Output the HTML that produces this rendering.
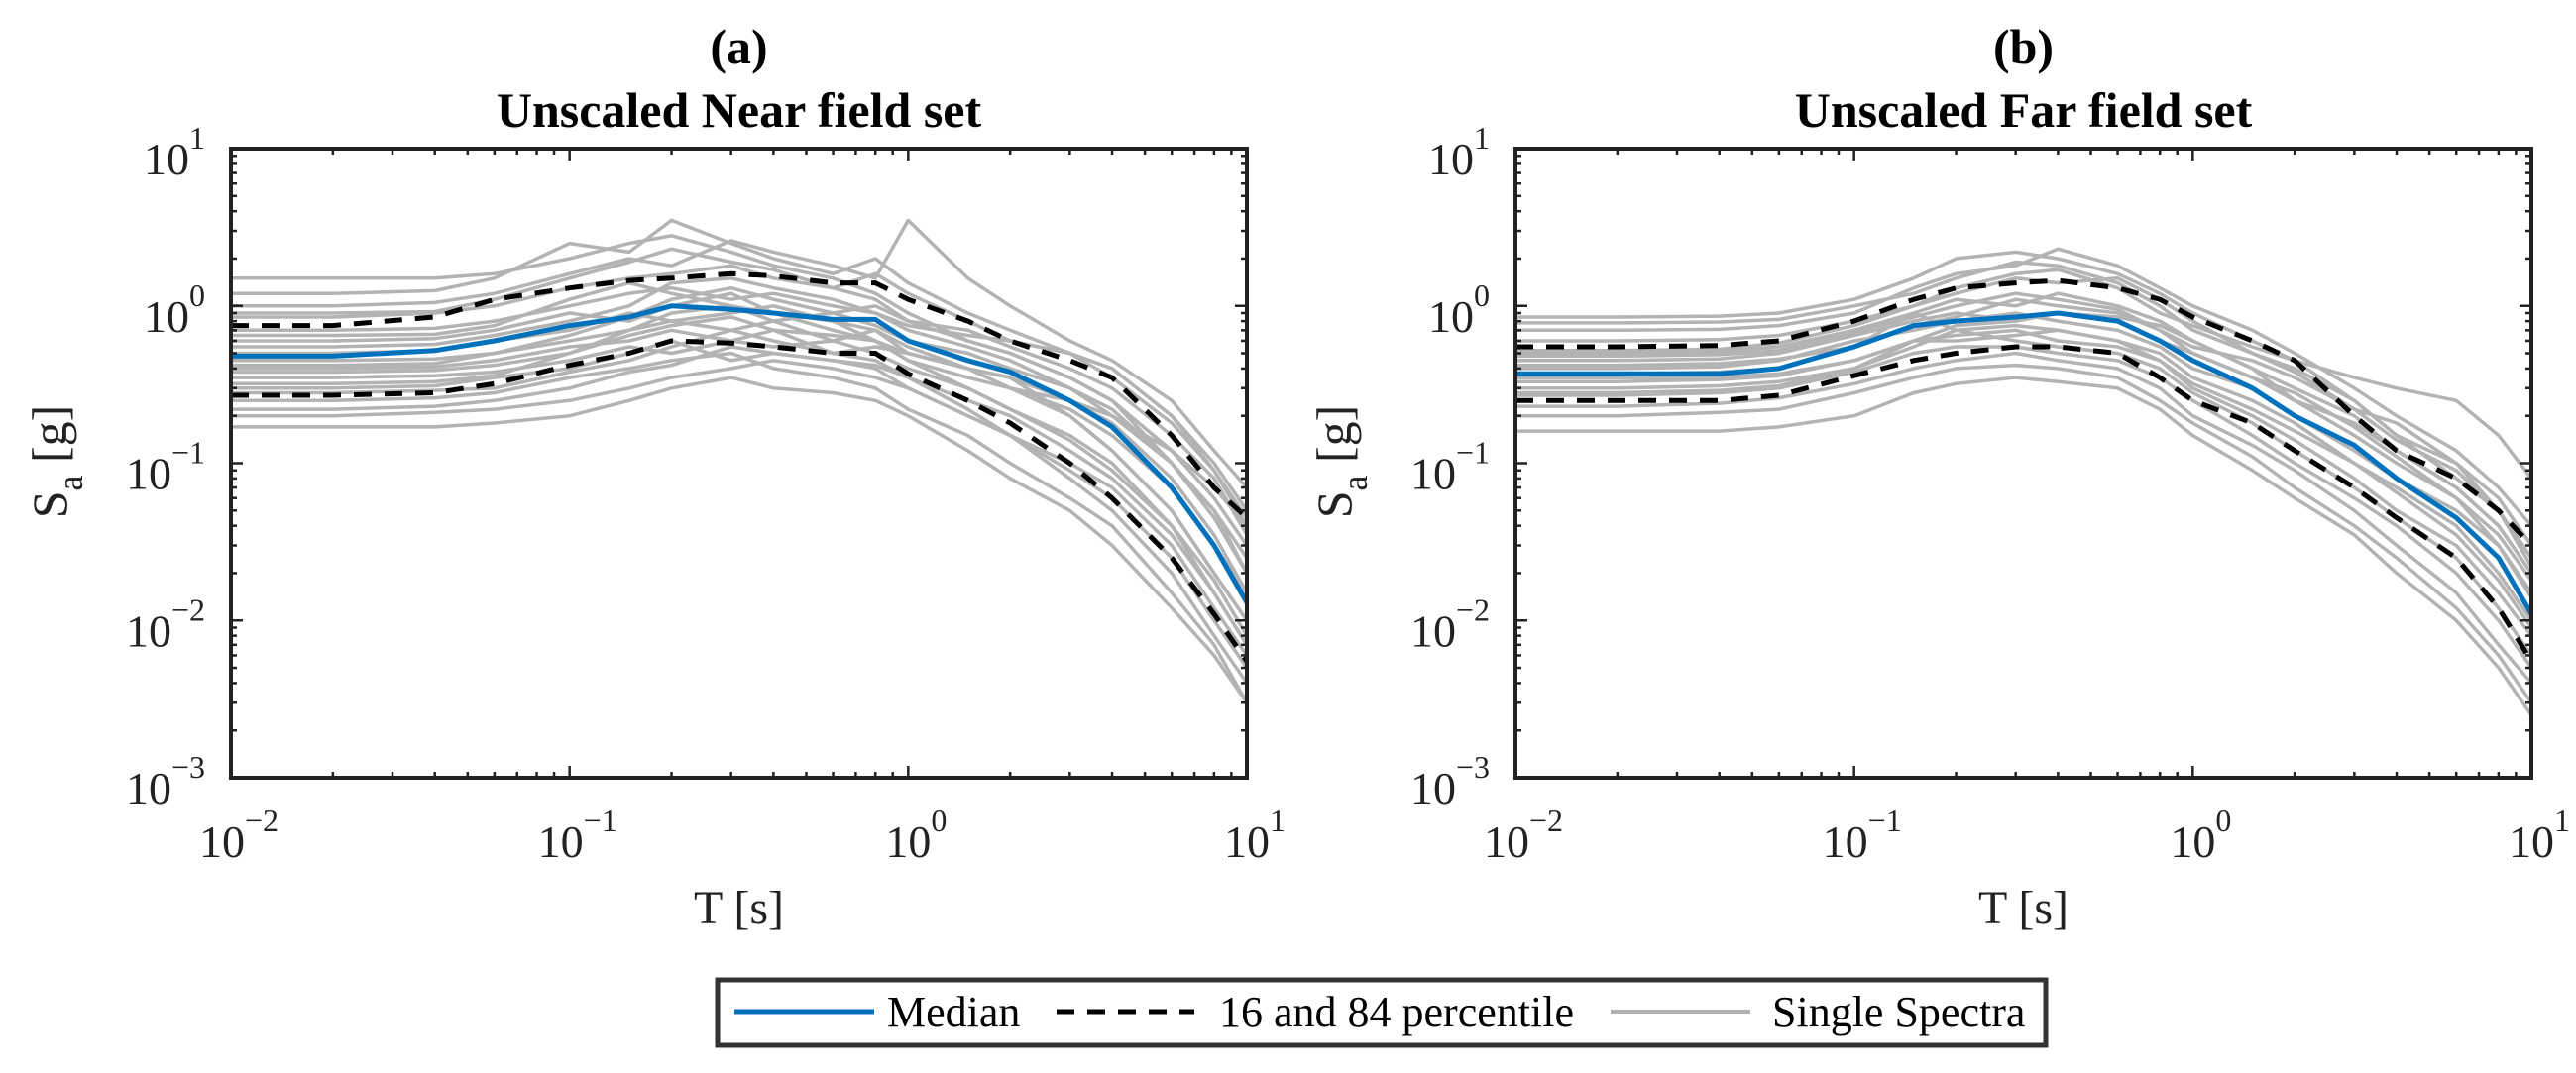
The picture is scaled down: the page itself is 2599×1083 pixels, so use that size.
<!DOCTYPE html>
<html><head><meta charset="utf-8">
<style>
html,body{margin:0;padding:0;background:#fff;}
svg{display:block;font-family:"Liberation Serif","DejaVu Serif",serif;}
</style></head>
<body>
<svg id="fig" width="2599" height="1083" viewBox="0 0 2599 1083" xmlns="http://www.w3.org/2000/svg">
<g id="panelA"></g>
<g id="panelB"></g>
<g id="legend">
  <rect x="724" y="989" width="1340" height="66" fill="#fff" stroke="#333" stroke-width="5"/>
  <line x1="741" y1="1021" x2="882" y2="1021" stroke="#0072BD" stroke-width="5"/>
  <text x="895" y="1036" font-size="44">Median</text>
  <line x1="1066" y1="1021" x2="1205" y2="1021" stroke="#000" stroke-width="5" stroke-dasharray="18,13"/>
  <text x="1230" y="1036" font-size="44">16 and 84 percentile</text>
  <line x1="1625" y1="1021" x2="1766" y2="1021" stroke="#b0b0b0" stroke-width="4"/>
  <text x="1788" y="1036" font-size="44">Single Spectra</text>
</g>
</svg>
<script>
const periods = [0.01,0.02,0.04,0.06,0.1,0.15,0.2,0.3,0.4,0.6,0.8,1,1.5,2,3,4,6,8,10];
const xTickValues = [0.01,0.1,1,10];
const xTickExps = ["\u22122","\u22121","0","1"];
const yTickValues = [0.001,0.01,0.1,1,10];
const yTickExps = ["\u22123","\u22122","\u22121","0","1"];

const nearMedian = [0.48,0.48,0.52,0.6,0.75,0.85,1.0,0.95,0.9,0.82,0.82,0.6,0.45,0.38,0.25,0.17,0.07,0.03,0.013];
const nearP84 = [0.75,0.75,0.85,1.1,1.3,1.45,1.5,1.6,1.55,1.4,1.4,1.1,0.8,0.6,0.45,0.35,0.15,0.07,0.045];
const nearP16 = [0.27,0.27,0.28,0.32,0.42,0.5,0.6,0.58,0.55,0.5,0.5,0.37,0.25,0.18,0.1,0.06,0.025,0.011,0.0055];
const nearSpectra = [
[1.5,1.5,1.5,1.6,2.0,2.5,2.8,2.2,1.8,1.5,1.2,0.9,0.6,0.5,0.35,0.25,0.12,0.06,0.03],
[1.2,1.2,1.25,1.5,2.5,2.2,3.5,2.5,2.0,1.6,2.0,1.4,0.9,0.7,0.5,0.4,0.2,0.1,0.05],
[1.0,1.0,1.05,1.2,1.6,2.0,1.8,2.6,2.2,1.8,1.5,3.5,1.5,1.0,0.6,0.45,0.25,0.12,0.07],
[0.85,0.85,0.9,1.0,1.3,1.5,1.6,1.8,1.5,1.3,1.6,1.2,0.8,0.6,0.5,0.4,0.2,0.09,0.04],
[0.7,0.7,0.72,0.8,1.0,1.2,1.3,1.1,1.2,1.0,0.9,0.7,0.55,0.45,0.3,0.2,0.1,0.05,0.025],
[0.6,0.6,0.62,0.7,0.9,0.8,1.0,1.2,0.9,0.8,0.7,0.5,0.4,0.3,0.22,0.15,0.07,0.03,0.015],
[0.5,0.5,0.52,0.6,0.7,0.9,0.8,0.7,0.8,0.9,1.0,0.8,0.6,0.5,0.35,0.25,0.1,0.05,0.02],
[0.45,0.45,0.46,0.5,0.6,0.7,0.9,1.0,0.8,0.6,0.5,0.4,0.3,0.22,0.15,0.1,0.04,0.015,0.007],
[0.4,0.4,0.41,0.45,0.55,0.6,0.7,0.6,0.55,0.6,0.7,0.55,0.4,0.35,0.25,0.18,0.08,0.035,0.015],
[0.35,0.35,0.36,0.38,0.45,0.55,0.5,0.6,0.7,0.5,0.45,0.35,0.22,0.15,0.09,0.06,0.025,0.01,0.005],
[0.3,0.3,0.31,0.35,0.4,0.5,0.6,0.45,0.5,0.45,0.4,0.3,0.2,0.15,0.1,0.07,0.03,0.012,0.006],
[0.25,0.25,0.26,0.28,0.35,0.4,0.45,0.5,0.4,0.35,0.3,0.22,0.15,0.1,0.06,0.04,0.015,0.007,0.003],
[0.2,0.2,0.21,0.22,0.25,0.3,0.35,0.4,0.45,0.4,0.35,0.3,0.2,0.15,0.08,0.05,0.02,0.008,0.004],
[0.17,0.17,0.17,0.18,0.2,0.25,0.3,0.35,0.3,0.28,0.25,0.2,0.12,0.08,0.05,0.03,0.012,0.006,0.003],
[0.55,0.55,0.57,0.65,0.8,1.0,1.4,1.5,1.3,1.1,0.9,0.75,0.65,0.6,0.5,0.35,0.18,0.09,0.045],
[0.38,0.38,0.39,0.42,0.5,0.7,0.8,0.9,1.0,0.8,0.6,0.45,0.35,0.3,0.25,0.2,0.12,0.07,0.04],
[0.65,0.65,0.66,0.75,1.1,1.4,1.2,1.0,0.9,0.7,0.6,0.5,0.4,0.35,0.2,0.12,0.05,0.02,0.01],
[0.28,0.28,0.29,0.3,0.38,0.45,0.55,0.7,0.6,0.5,0.55,0.5,0.4,0.3,0.2,0.12,0.05,0.02,0.01],
[0.9,0.9,0.92,1.1,1.5,1.9,2.3,1.9,1.7,1.3,1.1,0.8,0.7,0.55,0.4,0.3,0.15,0.08,0.035],
[0.32,0.32,0.33,0.36,0.5,0.65,0.75,0.85,0.7,0.65,0.6,0.45,0.3,0.22,0.14,0.09,0.04,0.018,0.008],
[0.42,0.42,0.43,0.5,0.65,0.85,1.1,1.3,1.1,0.9,0.75,0.6,0.5,0.4,0.3,0.22,0.1,0.045,0.02],
[0.22,0.22,0.23,0.25,0.3,0.38,0.42,0.55,0.5,0.45,0.42,0.35,0.25,0.2,0.12,0.08,0.035,0.015,0.007]
];

const farMedian = [0.37,0.37,0.37,0.4,0.55,0.75,0.8,0.85,0.9,0.8,0.6,0.45,0.3,0.2,0.13,0.08,0.045,0.025,0.011];
const farP84 = [0.55,0.55,0.56,0.6,0.8,1.1,1.3,1.4,1.45,1.3,1.1,0.85,0.6,0.45,0.2,0.12,0.08,0.05,0.03];
const farP16 = [0.25,0.25,0.25,0.27,0.36,0.45,0.5,0.55,0.55,0.5,0.35,0.25,0.18,0.12,0.07,0.045,0.025,0.012,0.0055];
const farSpectra = [
[0.85,0.85,0.86,0.9,1.1,1.5,2.0,2.2,2.0,1.6,1.2,0.9,0.6,0.45,0.25,0.15,0.1,0.06,0.03],
[0.7,0.7,0.71,0.75,0.9,1.3,1.6,1.8,2.3,1.8,1.3,1.0,0.7,0.5,0.3,0.2,0.12,0.07,0.04],
[0.6,0.6,0.61,0.65,0.8,1.0,1.2,1.5,1.4,1.5,1.1,0.8,0.5,0.4,0.25,0.15,0.08,0.05,0.025],
[0.5,0.5,0.51,0.55,0.7,0.9,1.1,1.0,1.2,1.0,0.8,0.6,0.4,0.3,0.2,0.12,0.07,0.04,0.02],
[0.45,0.45,0.46,0.5,0.65,0.8,0.9,0.8,0.9,0.8,0.6,0.5,0.35,0.25,0.15,0.1,0.06,0.035,0.018],
[0.4,0.4,0.41,0.45,0.6,0.7,0.8,0.9,0.8,0.7,0.55,0.4,0.3,0.2,0.12,0.08,0.05,0.03,0.015],
[0.37,0.37,0.38,0.4,0.55,0.9,0.7,0.75,0.7,0.6,0.5,0.35,0.25,0.18,0.1,0.07,0.04,0.02,0.01],
[0.33,0.33,0.34,0.36,0.45,0.6,0.65,0.7,0.6,0.55,0.45,0.3,0.2,0.14,0.08,0.05,0.03,0.015,0.008],
[0.3,0.3,0.31,0.33,0.4,0.55,0.7,0.6,0.55,0.5,0.4,0.28,0.18,0.12,0.07,0.045,0.025,0.012,0.006],
[0.27,0.27,0.28,0.3,0.38,0.5,0.55,0.55,0.5,0.45,0.35,0.25,0.15,0.1,0.06,0.04,0.02,0.01,0.005],
[0.23,0.23,0.24,0.26,0.32,0.4,0.45,0.5,0.45,0.4,0.3,0.2,0.13,0.09,0.05,0.03,0.015,0.007,0.004],
[0.2,0.2,0.21,0.22,0.28,0.35,0.4,0.42,0.4,0.35,0.25,0.18,0.11,0.07,0.04,0.025,0.012,0.006,0.003],
[0.16,0.16,0.16,0.17,0.2,0.28,0.32,0.35,0.33,0.3,0.22,0.15,0.09,0.06,0.035,0.02,0.01,0.005,0.0025],
[0.52,0.52,0.53,0.58,0.75,1.0,1.3,1.6,1.7,1.3,0.9,0.75,0.55,0.45,0.35,0.3,0.25,0.15,0.08],
[0.42,0.42,0.43,0.46,0.55,0.75,0.85,1.1,1.0,0.9,0.7,0.55,0.45,0.35,0.22,0.18,0.1,0.05,0.025],
[0.35,0.35,0.35,0.37,0.45,0.6,0.75,0.8,0.9,0.85,0.75,0.6,0.4,0.25,0.18,0.12,0.07,0.04,0.02],
[0.78,0.78,0.79,0.82,1.0,1.2,1.5,1.9,1.8,1.4,1.0,0.7,0.5,0.38,0.22,0.14,0.09,0.05,0.022],
[0.28,0.28,0.29,0.31,0.4,0.6,0.6,0.65,0.7,0.6,0.45,0.32,0.22,0.16,0.1,0.065,0.035,0.018,0.009],
[0.48,0.48,0.49,0.52,0.68,0.85,1.0,1.2,1.1,0.95,0.7,0.5,0.35,0.28,0.17,0.11,0.06,0.03,0.014]
];

const NS = "http://www.w3.org/2000/svg";
function mk(tag, attrs, parent){
  const e = document.createElementNS(NS, tag);
  for (const k in attrs) e.setAttribute(k, attrs[k]);
  parent.appendChild(e);
  return e;
}

function drawPanel(g, left, label, title, spectra, med, p84, p16){
  const top = 150, bottom = 785, right = left + 1025;
  const xs = v => left + (Math.log10(v) + 2) / 3 * (right - left);
  const ys = v => top + (1 - Math.log10(v)) / 4 * (bottom - top);
  const clip = mk('clipPath', {id: 'clip' + left}, g);
  mk('rect', {x: left, y: top, width: right - left, height: bottom - top}, clip);
  const series = mk('g', {'clip-path': 'url(#clip' + left + ')'}, g);
  const pathOf = arr => arr.map((v, i) => (i ? 'L' : 'M') + xs(periods[i]).toFixed(1) + ',' + ys(v).toFixed(1)).join(' ');
  spectra.forEach((s, i) => {
    const p = mk('path', {d: pathOf(s), fill: 'none', stroke: '#b3b3b3', 'stroke-width': 3.5, 'stroke-linejoin': 'round'}, series);
    
    
  });
  const pm = mk('path', {d: pathOf(med), fill: 'none', stroke: '#0072BD', 'stroke-width': 5}, series);
  
  
  const ph = mk('path', {d: pathOf(p84), fill: 'none', stroke: '#000', 'stroke-width': 5, 'stroke-dasharray': '18,13'}, series);
  
  
  const pl = mk('path', {d: pathOf(p16), fill: 'none', stroke: '#000', 'stroke-width': 5, 'stroke-dasharray': '18,13'}, series);
  
  

  const ax = mk('g', {stroke: '#222', 'stroke-width': 2.5}, g);
  
  
  for (let d = 0; d < 3; d++) {
    const base = xTickValues[d];
    for (let m = 2; m <= 9; m++) {
      const x = xs(base * m);
      mk('line', {x1: x, y1: bottom, x2: x, y2: bottom - 6}, ax);
      mk('line', {x1: x, y1: top, x2: x, y2: top + 6}, ax);
    }
  }
  xTickValues.forEach(v => {
    const x = xs(v);
    mk('line', {x1: x, y1: bottom, x2: x, y2: bottom - 12}, ax);
    mk('line', {x1: x, y1: top, x2: x, y2: top + 12}, ax);
  });
  for (let d = 0; d < 4; d++) {
    const base = yTickValues[d];
    for (let m = 2; m <= 9; m++) {
      const y = ys(base * m);
      mk('line', {x1: left, y1: y, x2: left + 6, y2: y}, ax);
      mk('line', {x1: right, y1: y, x2: right - 6, y2: y}, ax);
    }
  }
  yTickValues.forEach(v => {
    const y = ys(v);
    mk('line', {x1: left, y1: y, x2: left + 12, y2: y}, ax);
    mk('line', {x1: right, y1: y, x2: right - 12, y2: y}, ax);
  });
  const box = mk('rect', {x: left, y: top, width: right - left, height: bottom - top, fill: 'none', stroke: '#222', 'stroke-width': 4}, g);
  
  

  xTickValues.forEach((v, i) => {
    const t = mk('text', {x: xs(v) + 8, y: 865, 'font-size': 46, 'text-anchor': 'middle', fill: '#222'}, g);
    
    
    t.textContent = '10';
    const s = mk('tspan', {dy: -26, 'font-size': 32}, t);
    s.textContent = xTickExps[i];
  });
  yTickValues.forEach((v, i) => {
    const t = mk('text', {x: left - 26, y: ys(v) + 26, 'font-size': 46, 'text-anchor': 'end', fill: '#222'}, g);
    
    
    t.textContent = '10';
    const s = mk('tspan', {dy: -26, 'font-size': 32}, t);
    s.textContent = yTickExps[i];
  });
  const cx = (left + right) / 2;
  const xt = mk('text', {x: cx, y: 932, 'font-size': 48, 'text-anchor': 'middle', fill: '#222'}, g);
  
  
  xt.textContent = 'T [s]';
  const yt = mk('text', {transform: 'translate(' + (left - 166) + ',466) rotate(-90)', 'font-size': 50, 'text-anchor': 'middle', fill: '#222'}, g);
  
  
  yt.textContent = 'S';
  const sub = mk('tspan', {dy: 16, 'font-size': 36}, yt);
  sub.textContent = 'a';
  const rest = mk('tspan', {dy: -16}, yt);
  rest.textContent = ' [g]';
  const pl1 = mk('text', {x: cx, y: 64, 'font-size': 50, 'font-weight': 'bold', 'text-anchor': 'middle'}, g);
  
  
  pl1.textContent = label;
  const tt = mk('text', {x: cx, y: 128, 'font-size': 50, 'font-weight': 'bold', 'text-anchor': 'middle'}, g);
  
  
  tt.textContent = title;
}

drawPanel(document.getElementById('panelA'), 233, '(a)', 'Unscaled Near field set', nearSpectra, nearMedian, nearP84, nearP16);
drawPanel(document.getElementById('panelB'), 1529, '(b)', 'Unscaled Far field set', farSpectra, farMedian, farP84, farP16);
</script>
</body></html>
